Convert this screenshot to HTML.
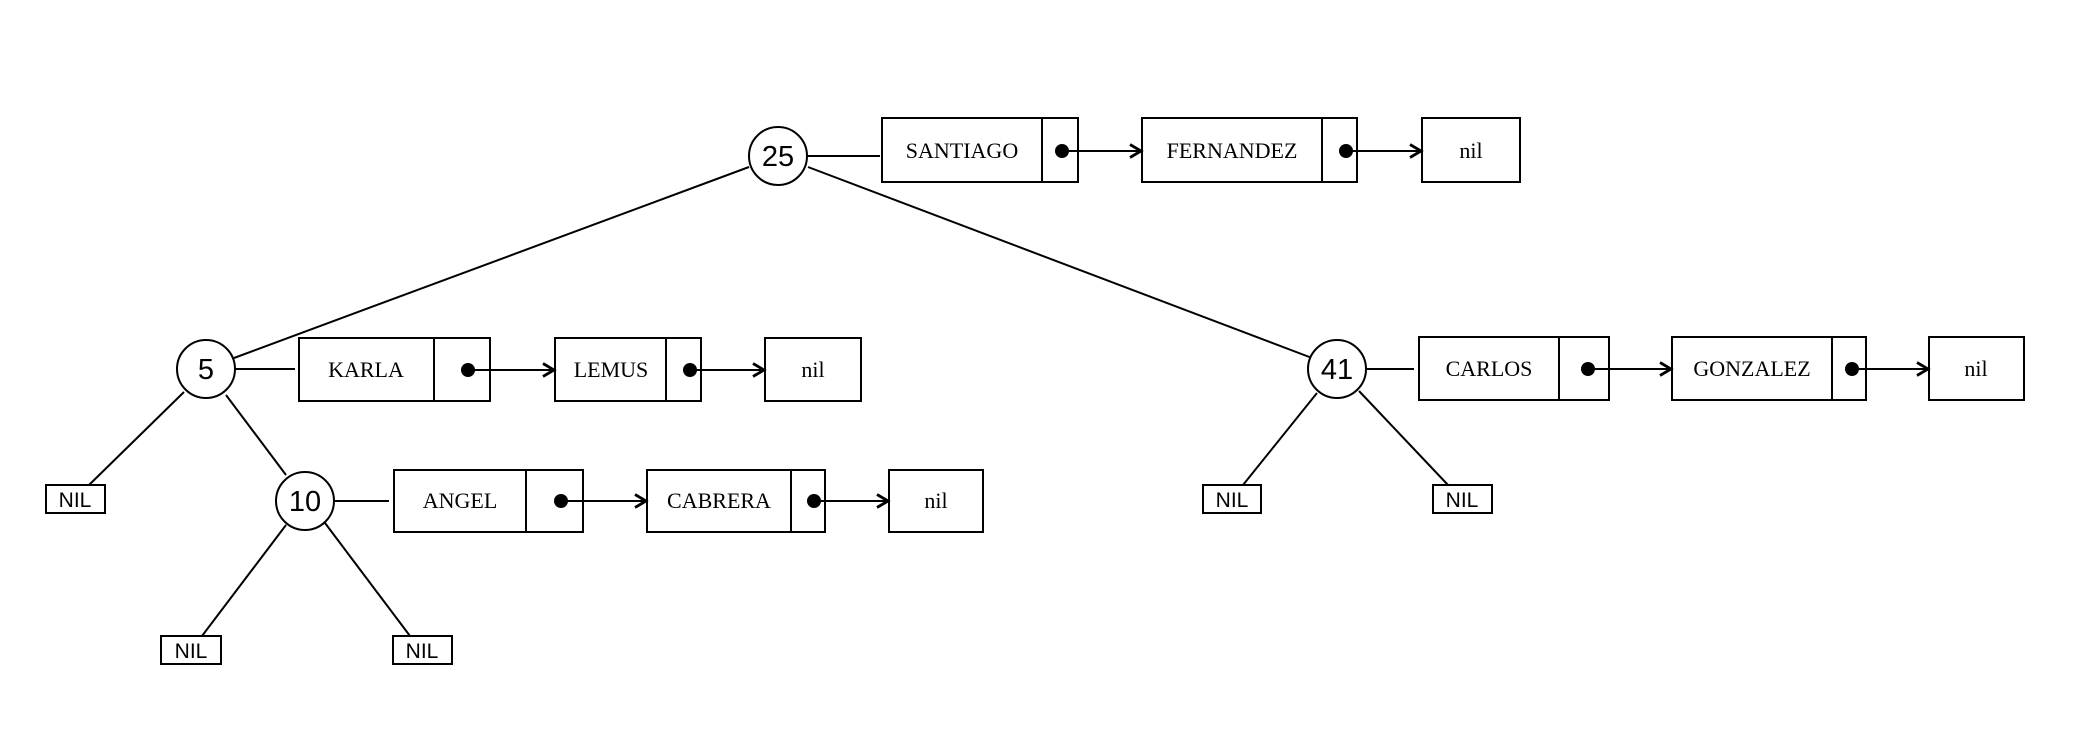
<!DOCTYPE html>
<html><head><meta charset="utf-8"><style>
html,body{margin:0;padding:0;background:#fff}
svg{display:block}
.s{font-family:"Liberation Serif",serif;font-size:22px;fill:#000}
.n{font-family:"Liberation Sans",sans-serif;font-size:29px;fill:#000}
.l{font-family:"Liberation Sans",sans-serif;font-size:21px;fill:#000}
</style></head><body>
<svg width="2083" height="745" viewBox="0 0 2083 745" xmlns="http://www.w3.org/2000/svg">
<defs><marker id="a" markerWidth="16" markerHeight="16" refX="13" refY="8" orient="auto" markerUnits="userSpaceOnUse"><path d="M2,1.5 L13,8 L2,14.5" fill="none" stroke="#000" stroke-width="2.8"/></marker></defs>
<g stroke="#000" stroke-width="2" fill="none">
<line x1="749" y1="167" x2="234" y2="358"/>
<line x1="808" y1="167" x2="1312" y2="358"/>
<line x1="807" y1="156" x2="880" y2="156"/>
<line x1="235" y1="369" x2="295" y2="369"/>
<line x1="335" y1="501" x2="389" y2="501"/>
<line x1="1366" y1="369" x2="1414" y2="369"/>
<line x1="89" y1="485" x2="184" y2="392"/>
<line x1="226" y1="395" x2="286" y2="475"/>
<line x1="202" y1="636" x2="286" y2="525"/>
<line x1="410" y1="636" x2="325" y2="523"/>
<line x1="1243" y1="485" x2="1317" y2="393"/>
<line x1="1448" y1="485" x2="1359" y2="391"/>
<circle cx="778" cy="156" r="29" fill="#fff"/>
<circle cx="206" cy="369" r="29" fill="#fff"/>
<circle cx="305" cy="501" r="29" fill="#fff"/>
<circle cx="1337" cy="369" r="29" fill="#fff"/>
<rect x="882" y="118" width="196" height="64"/><line x1="1042" y1="118" x2="1042" y2="182"/>
<rect x="1142" y="118" width="215" height="64"/><line x1="1322" y1="118" x2="1322" y2="182"/>
<rect x="1422" y="118" width="98" height="64"/>
<line x1="1062" y1="151" x2="1141" y2="151" marker-end="url(#a)"/>
<line x1="1346" y1="151" x2="1421" y2="151" marker-end="url(#a)"/>
<rect x="299" y="338" width="191" height="63"/><line x1="434" y1="338" x2="434" y2="401"/>
<rect x="555" y="338" width="146" height="63"/><line x1="666" y1="338" x2="666" y2="401"/>
<rect x="765" y="338" width="96" height="63"/>
<line x1="468" y1="370" x2="554" y2="370" marker-end="url(#a)"/>
<line x1="690" y1="370" x2="764" y2="370" marker-end="url(#a)"/>
<rect x="394" y="470" width="189" height="62"/><line x1="526" y1="470" x2="526" y2="532"/>
<rect x="647" y="470" width="178" height="62"/><line x1="791" y1="470" x2="791" y2="532"/>
<rect x="889" y="470" width="94" height="62"/>
<line x1="561" y1="501" x2="646" y2="501" marker-end="url(#a)"/>
<line x1="814" y1="501" x2="888" y2="501" marker-end="url(#a)"/>
<rect x="1419" y="337" width="190" height="63"/><line x1="1559" y1="337" x2="1559" y2="400"/>
<rect x="1672" y="337" width="194" height="63"/><line x1="1832" y1="337" x2="1832" y2="400"/>
<rect x="1929" y="337" width="95" height="63"/>
<line x1="1588" y1="369" x2="1671" y2="369" marker-end="url(#a)"/>
<line x1="1852" y1="369" x2="1928" y2="369" marker-end="url(#a)"/>
<rect x="46" y="485" width="59" height="28"/>
<rect x="161" y="636" width="60" height="28"/>
<rect x="393" y="636" width="59" height="28"/>
<rect x="1203" y="485" width="58" height="28"/>
<rect x="1433" y="485" width="59" height="28"/>
</g>
<g fill="#000">
<circle cx="1062" cy="151" r="7"/><circle cx="1346" cy="151" r="7"/>
<circle cx="468" cy="370" r="7"/><circle cx="690" cy="370" r="7"/>
<circle cx="561" cy="501" r="7"/><circle cx="814" cy="501" r="7"/>
<circle cx="1588" cy="369" r="7"/><circle cx="1852" cy="369" r="7"/>
</g>
<g text-anchor="middle">
<text class="n" x="778" y="166">25</text>
<text class="n" x="206" y="379">5</text>
<text class="n" x="305" y="511">10</text>
<text class="n" x="1337" y="379">41</text>
<text class="s" x="962" y="158">SANTIAGO</text>
<text class="s" x="1232" y="158">FERNANDEZ</text>
<text class="s" x="1471" y="158">nil</text>
<text class="s" x="366" y="377">KARLA</text>
<text class="s" x="611" y="377">LEMUS</text>
<text class="s" x="813" y="377">nil</text>
<text class="s" x="460" y="508">ANGEL</text>
<text class="s" x="719" y="508">CABRERA</text>
<text class="s" x="936" y="508">nil</text>
<text class="s" x="1489" y="376">CARLOS</text>
<text class="s" x="1752" y="376">GONZALEZ</text>
<text class="s" x="1976" y="376">nil</text>
<text class="l" x="75" y="507">NIL</text>
<text class="l" x="191" y="658">NIL</text>
<text class="l" x="422" y="658">NIL</text>
<text class="l" x="1232" y="507">NIL</text>
<text class="l" x="1462" y="507">NIL</text>
</g>
</svg>
</body></html>
